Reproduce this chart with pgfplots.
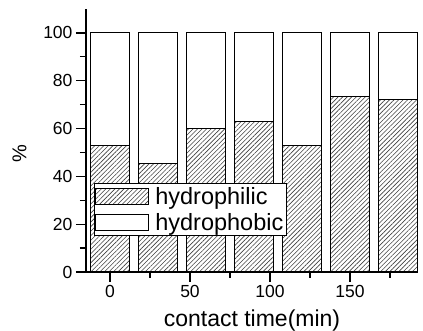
\documentclass[border=0pt]{standalone}
\usepackage{fontspec}
\setmainfont{Liberation Sans}
\usepackage{pgfplots}
\pgfplotsset{compat=1.18}
\usetikzlibrary{patterns.meta}
\begin{document}
\begin{tikzpicture}
\begin{axis}[
  scale only axis,
  width=332pt, height=263pt,
  xmin=-15, xmax=192.5, ymin=0, ymax=110,
  axis x line=bottom, axis y line=left,
  axis line style={-, line width=1.3pt},
  ybar stacked, bar width=24,
  xtick={0,50,100,150}, minor xtick={25,75,125,175},
  ytick={0,20,40,60,80,100}, minor ytick={10,30,50,70,90},
  tick align=outside,
  major tick length=10pt, minor tick length=6pt,
  every tick/.style={black, line width=1.2pt},
  /pgf/number format/assume math mode=true,
  tick label style={font=\fontsize{17.5}{20}\selectfont},
  xlabel={contact time(min)}, ylabel={\%},
  label style={font=\fontsize{23}{26}\selectfont},
  xlabel style={at={(axis description cs:0.5,-0.185)}, anchor=center},
  ylabel style={at={(axis description cs:-0.2,0.45)}, anchor=center, font=\fontsize{20}{24}\selectfont},
  legend style={at={(axis description cs:0.024,0.338)}, anchor=north west,
    draw=black, line width=0.8pt, fill=white, inner xsep=1pt, inner ysep=2pt, row sep=3pt,
    font=\fontsize{23.5}{24}\selectfont},
  legend cell align=left,
  legend image code/.code={\draw[#1, line width=0.9pt] (0pt,-8pt) rectangle (53pt,8pt); \path (57pt,0pt);},
]
\addplot[draw=black, line width=1pt, pattern={Lines[angle=45,distance=3.2pt,line width=0.6pt]}, pattern color=black!75]
  coordinates {(0,53.1) (30,45.2) (60,60.0) (90,62.9) (120,53.1) (150,73.6) (180,72.0)};
\addplot[draw=black, line width=1pt, fill=white]
  coordinates {(0,46.9) (30,54.8) (60,40.0) (90,37.1) (120,46.9) (150,26.4) (180,28.0)};
\legend{hydrophilic, hydrophobic}
\end{axis}
\pgfresetboundingbox
\path ([xshift=-86pt,yshift=-59pt]current axis.south west) rectangle ([xshift=5pt,yshift=9pt]current axis.north east);
\end{tikzpicture}
\end{document}
